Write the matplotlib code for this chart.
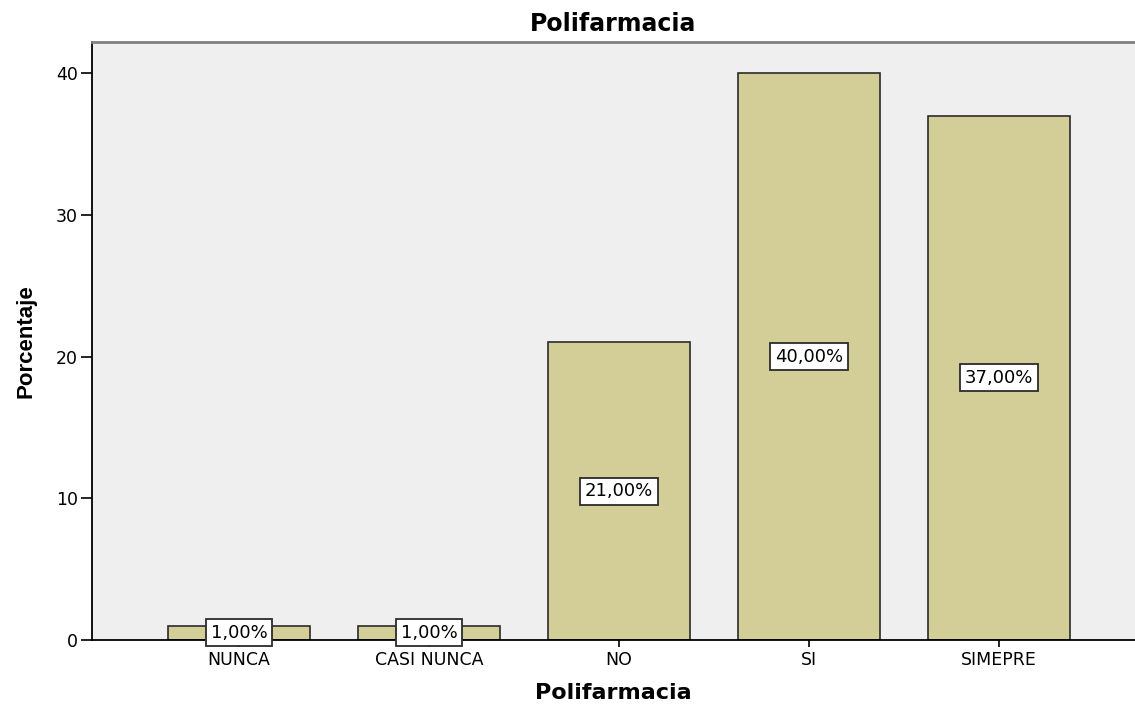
"""Grafico a barre Polifarmacia (stile SPSS)."""

import matplotlib
matplotlib.use("Agg")
import matplotlib.pyplot as plt
import numpy as np

categorias = ["NUNCA", "CASI NUNCA", "NO", "SI", "SIMEPRE"]
porcentajes = [1.0, 1.0, 21.0, 40.0, 37.0]
etiquetas = ["1,00%", "1,00%", "21,00%", "40,00%", "37,00%"]
yticks = [0, 10, 20, 30, 40]

BAR_COLOR = "#D3CE97"
BG_COLOR = "#EFEFEF"


def main() -> None:
    fig = plt.figure(figsize=(11.35, 7.07), dpi=100)
    ax = fig.add_axes([92 / 1135, 67 / 707, 1 - 92 / 1135, (640 - 42) / 707])
    ax.set_facecolor(BG_COLOR)

    x = np.arange(len(categorias))
    ax.bar(x, porcentajes, width=0.747, color=BAR_COLOR, edgecolor="#2b2b2b", linewidth=1.2, zorder=2)

    for xi, val, lab in zip(x, porcentajes, etiquetas):
        ax.text(xi, val / 2, lab, ha="center", va="center", fontsize=13, family="DejaVu Sans", zorder=3,
                bbox=dict(boxstyle="square,pad=0.25", facecolor="white", edgecolor="#2b2b2b", linewidth=1.3))

    ax.set_xlim(-0.774, 4.716)
    ax.set_ylim(0, 42.2)
    ax.set_xticks(x)
    ax.set_xticklabels(categorias, fontsize=12.5, family="DejaVu Sans")
    ax.set_yticks(yticks)
    ax.set_yticklabels([str(t) for t in yticks], fontsize=12.5, family="DejaVu Sans")
    ax.tick_params(axis="y", length=8, width=1.2, pad=2)
    ax.tick_params(axis="x", length=5, width=1.2, pad=3)

    ax.spines["right"].set_visible(False)
    ax.spines["top"].set_color("#808080")
    ax.spines["top"].set_linewidth(2)
    ax.spines["left"].set_linewidth(1.3)
    ax.spines["bottom"].set_linewidth(1.3)

    ax.set_title("Polifarmacia", fontsize=17, fontweight="bold", family="DejaVu Sans", pad=8)
    ax.set_xlabel("Polifarmacia", fontsize=16, fontweight="bold", family="DejaVu Sans", labelpad=10)
    ax.set_ylabel("Porcentaje", fontsize=16, fontweight="bold", family="Liberation Sans", labelpad=14)

    fig.savefig("out.png", dpi=100)
    plt.close(fig)


if __name__ == "__main__":
    main()
